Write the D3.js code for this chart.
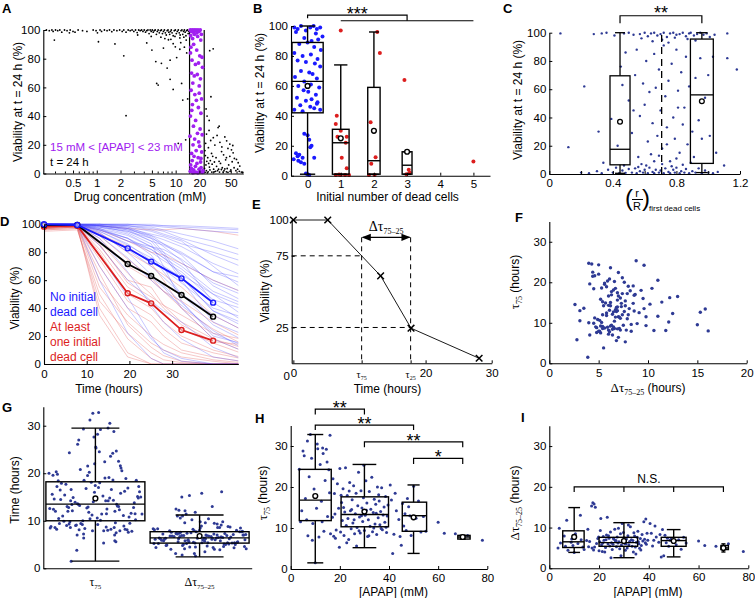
<!DOCTYPE html>
<html><head><meta charset="utf-8">
<script src="https://cdn.jsdelivr.net/npm/d3@7/dist/d3.min.js"></script>
<style>html,body{margin:0;padding:0;background:#fff}svg{display:block}</style>
</head><body>
<svg id="fig" width="755" height="598" xmlns="http://www.w3.org/2000/svg"></svg>
<script>
// ================= DATA =================
// ---- A: viability at 24 h vs drug concentration
const aTicks = [0.5,1,2,5,10,20,50];
const aMinor = [0.3,0.4,0.6,0.7,0.8,0.9,3,4,6,7,8,9,30,40,60,70];
const aWindow = [15,23];
const aBlack = [
[0.23,100],[0.25,99.5],[0.27,100],[0.28,99],[0.3,100],[0.32,99.5],[0.34,100],[0.36,98.5],[0.39,100],[0.42,99.5],[0.46,100],[0.5,99],[0.53,98.5],[0.58,100],[0.66,99.5],[0.75,99],[0.9,100],[0.98,99.5],[1.02,98],[1.1,100],[1.15,99],[1.25,100],[1.35,99.5],[1.45,100],[1.55,98.8],[1.65,100],[1.8,99.5],[1.95,100],[2.1,99],[2.2,100],[2.35,98.5],[2.5,100],[2.65,99.5],[2.8,100],[2.95,99],[3.1,100],[3.25,98.2],[3.4,100],[3.55,99.5],[3.7,100],[3.85,99],[4.0,100],[4.15,98.5],[4.3,99.5],[4.45,100],[4.6,97.5],[4.75,100],[4.9,99],[5.05,100],[5.2,98.5],[5.35,99.5],[5.5,100],[5.7,97],[5.85,99],[6.0,100],[6.2,98],[6.4,99.5],[6.6,100],[6.8,97.5],[7.0,99],[7.2,100],[7.4,98],[7.6,96.5],[7.8,99.5],[8.0,100],[8.2,98.5],[8.4,97],[8.6,99],[8.8,100],[9.0,98],[9.3,96],[9.6,99.5],[9.9,100],[10.2,97.5],[10.5,99],[10.8,100],[11.1,98],[11.4,96.5],[11.7,99.5],[12.0,100],[12.3,97],[12.6,99],[12.9,100],[13.2,98.5],[13.5,96],[13.8,99.5],[14.1,100],[14.4,97.5],[14.7,99],
[6.5,95],[7.3,94],[8.7,93.5],[9.8,95.5],[11.3,94.5],[12.7,95],[13.6,93],[4.9,95.5],[3.3,96.5],
[0.29,93],[0.45,98],[1.05,91.8],[1.7,90.3],[2.2,82],[2.35,40.3],[4.3,91],[5.6,78],[5.75,62.8],[6.0,61.6],[8.5,79],[8.5,65.6],[9.3,58.6],[11.9,62.8],[12.3,51.2],[11.3,86.6],[10.3,80.8],[8.1,93.2],[7.0,87.4],[5.0,86],[9.3,90.5],[10.8,21],[6.6,76.8],[12.9,88],[13.8,84],[7.8,73.5],[14.2,52],[13.4,23.5],[9.9,88.3],[11.6,91.2],
[27,85.6],[29.9,86.9],[28,53.5],[25,40],[26.6,37],[35.6,33],[24.6,27.5],[30,25],[34.5,32],[42,25.5],[48.6,20.5],[44.3,22.8],[36.4,21.7],[31.4,19.8],[53.5,14.4],[59,9.8],[65,5.2],[48.6,12],[38.2,15.3],[24,21],[26,18],[28.5,14],[23.5,16],[25.5,11],[27.5,9],[24.2,6],[26.8,4.5],[29,6.5],[31,8],[33,5],[35,3],[37,7],[39,4],[41,2],[43,9.5],[45,3.5],[47,6],[50,2.5],[52,8.2],[55,4],[58,2],[61,3],[64,1.5],[68,1],[71,0.8],[24.5,2],[25.8,1.2],[27.2,2.5],[28.7,1],[30.3,3],[32,1.5],[34,2],[36,1],[38,2.8],[40,1],[42,3.2],[44,1.2],[46,0.8],[49,1.5],[23.2,3.5],[24.8,8.5],[26.2,7],[29.5,12],[32.5,11],[40.5,13],[46,17.5],[55.5,10.5],[62,7.5],[51,16.5],[23.8,12.5],[27.8,23],[33.5,26.5],[38.5,18.5],[44,11],[53,19.5],[30.8,1.2],[35.5,8.5],[23.6,0.8],[25.2,0.5],[26.5,30],[24.3,45]
];
const aPurple = [
[15.3,100],[15.8,99],[16.2,100],[16.7,98.5],[17.1,100],[17.6,99.5],[18.1,100],[18.6,98],[19.2,100],[19.8,99],[20.5,100],[21.2,97],[15.5,96],[16.4,94],[17.3,97],[19,95.5],[20.8,93],[15.6,88],[16.9,90],[15.4,84],[18.5,86],[20.2,82],[21.6,81],[16.1,79],[17.8,76],[19.5,77],[21.9,74],[15.9,70],[17.2,68],[18.8,69],[20.6,66],[16.5,63],[19.9,61],[15.7,58],[17.5,55],[21.3,52],[18.3,51],[16.3,48],[19.4,46],[20.9,42],[15.4,40],[17.9,37],[16.8,33],[20.4,31],[18.9,28],[15.2,26],[21.7,27],[17.4,24],[19.6,22],[16.6,20],[20.1,19],[18.2,16],[15.9,14],[21.4,15],[17.1,12],[19.3,11],[16.2,9],[20.7,8],[18.6,7],[15.5,6],[17.8,5],[21.0,4],[19.8,3],[16.9,2.5],[15.3,1.5],[18.0,1],[20.3,1.2],[21.8,0.8],[16.5,0.5],[19.1,0.5],[17.3,0.8],[22.2,2],[15.8,3.5],[20.9,10.5],[19.9,56],[16.0,44]
];
// ---- B: viability vs initial number of dead cells
const bGroups = [0,1,2,3];
const bN      = [70,20,11,7];
const bQ1     = [42,1,1,1];
const bMed    = [63,22,10,7];
const bQ3     = [89,31,59,16];
const bLo     = [1,1,1,1];
const bHi     = [100,74,96,16];
const bMean   = [60,25,30,16];
const bNoDead = [
[-0.4,99],[-0.3,98],[-0.2,100],[-0.05,97],[0.08,99],[0.18,100],[0.28,98],[0.38,99],[-0.35,96],[0.25,95],[0.45,93],[-0.1,92],[0.12,90],[0.32,91],[-0.25,88],[0.0,89],[0.2,86],[0.4,84],[-0.4,82],[-0.15,80],[0.1,81],[0.3,78],[-0.3,77],[-0.05,76],[0.22,75],[0.38,73],[-0.2,70],[0.05,69],[0.15,68],[-0.38,66],[0.28,65],[-0.1,63],[0.1,61],[-0.28,60],[0.35,59],[-0.12,57],[0.02,56],[0.25,54],[-0.32,52],[0.12,51],[-0.05,50],[0.3,49],[-0.22,47],[0.08,46],[0.2,45],[-0.4,44],[0.38,44],[-0.15,43],[0.0,27],[0.05,24],[0.12,20],[0.08,19],[-0.1,28],[-0.35,15],[-0.3,13],[-0.42,11],[-0.28,10],[-0.2,9],[-0.1,8],[0.2,12],[-0.25,14],[-0.15,12],[0.0,1],[0.05,0.5],[-0.05,1.5],[0.28,48]
];
const bSomeDead = [
[1.0,97],[0.88,40],[0.85,34.6],[1.0,30],[1.18,26],[0.9,26],[1.15,22],[1.03,12],[1.18,5],[0.85,0.5],[1.0,0.5],[1.13,0.5],[1.25,0.5],[0.95,0.8],[2.1,96],[2.18,82],[1.9,35.7],[2.05,12.3],[1.92,8],[1.85,0.5],[2.02,0.5],[2.92,64],[3.0,16],[3.05,4],[2.98,1],[3.08,2],[5.0,9.5]
];
// ---- C: viability vs relative position of first dead cells
const cThreshold = 0.707;
const cPos    = [0.445,0.96];
const cSpread = [0.063,0.072];
const cQ1  = [6.5,7.5];
const cMed = [17.5,56];
const cQ3  = [69.5,95.5];
const cLo  = [0.5,1];
const cHi  = [100,100];
const cMean= [37,51.5];
const cPts = [
[0.07,99.5],[0.28,99],[0.33,99.5],[0.36,100],[0.41,98],[0.47,99.5],[0.5,100],[0.53,98.5],[0.57,99],[0.6,100],[0.62,97.5],[0.64,99.5],[0.66,100],[0.68,98],[0.7,99],[0.72,100],[0.74,97],[0.76,99.5],[0.78,100],[0.8,98.5],[0.82,99],[0.84,100],[0.86,97.5],[0.88,99.5],[0.89,100],[0.91,98],[0.93,99],[0.95,100],[0.97,98.5],[0.99,99.5],[1.01,97],[1.04,98.5],[1.12,99.5],[0.58,96],[0.71,95],[0.79,96.5],[0.87,95.5],[0.65,94],[0.75,93],[0.92,94.5],
[0.12,19],[0.22,62],[0.31,30],[0.34,8],[0.39,39],[0.43,20],[0.45,76],[0.46,63],[0.48,86],[0.5,52],[0.52,29],[0.54,70],[0.55,88],[0.56,12],[0.57,41],[0.59,64],[0.6,49],[0.61,80],[0.62,23],[0.63,58],[0.64,14],[0.65,36],[0.66,85],[0.67,61],[0.68,27],[0.69,74],[0.7,45],[0.71,18],[0.72,91],[0.73,55],[0.74,33],[0.75,66],[0.76,9],[0.77,78],[0.78,40],[0.79,25],[0.8,88],[0.81,59],[0.82,15],[0.83,72],[0.84,35],[0.85,47],[0.86,83],[0.87,21],[0.88,62],[0.9,30],[0.91,12],[0.92,68],[0.94,38],[0.95,82],[0.96,25],[0.98,54],[1.0,70],[1.01,27],[1.03,83],[1.05,15],[1.1,6],[1.12,82],[1.18,74],[0.53,45],[0.69,13],[0.74,21],[0.81,47],[0.58,7],[0.66,9],[0.8,11],[0.89,8],
[0.2,1],[0.25,0.5],[0.3,2],[0.33,0.5],[0.37,3],[0.4,1],[0.42,4.5],[0.44,0.5],[0.46,2.5],[0.48,0.8],[0.5,3.5],[0.52,1],[0.54,4],[0.55,0.5],[0.57,2],[0.59,1],[0.6,3],[0.62,0.5],[0.63,4.5],[0.65,1.5],[0.66,0.5],[0.67,3],[0.69,1],[0.7,2.5],[0.72,0.5],[0.73,4],[0.75,1.5],[0.76,0.5],[0.78,3],[0.79,1],[0.8,4.5],[0.82,0.5],[0.83,2],[0.85,1],[0.86,3.5],[0.88,0.5],[0.9,2],[0.92,1],[0.94,4],[0.96,0.5],[0.98,2.5],[1.0,1],[1.03,0.5],[1.06,1.5],[0.61,6],[0.71,7],[0.77,5.5],[0.84,6.5],[0.47,6],[0.56,5]
];
// ---- D: viability time courses (individual wells + group means)
const dThinT = [0,7.8,13,19.6,25.1,28,32.2,39.6,46];
const dBlueThin = [
[100,100,100,100,99,99,98,97,96],[100,100,99,97,93,91,86,80,74],[100,100,97,92,84,80,72,60,52],[100,100,96,88,82,76,68,50,42],
[100,100,95,85,76,70,62,38,28],[100,100,93,82,70,62,50,28,18],[100,100,88,72,62,55,40,18,10],[100,100,99,96,92,89,84,72,64],
[100,99,85,60,45,38,30,12,4],[100,100,70,40,18,10,4,0,0],[100,100,100,99,98,96,93,88,82],[100,100,98,95,88,85,79,66,58],
[100,100,90,66,42,30,18,5,2],[100,100,99,97,90,80,62,38,30],[100,100,96,90,80,74,66,46,40],[100,100,100,100,99,98,97,95,94],
[100,100,97,88,84,82,75,58,50],[100,99,78,48,20,8,2,0,0],[100,100,99,98,92,86,78,56,46],[100,100,94,80,64,56,44,22,14],
[100,100,98,95,90,86,80,66,62],[100,100,60,22,4,0,0,0,0],[100,100,99,97,91,84,74,44,32],[100,100,96,90,82,76,64,50,36],
[100,100,100,99,96,93,89,78,70],[100,100,92,76,60,52,42,24,12],[100,100,99,96,88,78,60,30,22],[100,100,95,86,74,68,58,40,34],
[100,100,100,100,100,99,99,98,97],[100,100,98,93,84,78,70,52,44],[100,100,99,94,86,70,45,20,15],[100,100,100,98,95,92,88,70,55],
[100,100,97,90,78,66,50,35,25],[100,100,99,99,97,95,90,84,78]
];
const dRedThin = [
[98,99,80,50,40,30,20,10,5],[97,98,55,30,15,10,5,2,0],[99,99,90,70,60,52,45,30,20],[96,97,40,8,0,0,0,0,0],
[98,99,96,88,80,78,72,60,52],[97,98,70,40,30,20,10,5,2],[99,99,85,60,55,42,30,18,12],[95,96,50,18,4,0,0,0,0],
[98,99,82,55,45,35,25,15,8],[99,100,99,97,96,96,97,95,92],[97,98,75,45,35,25,15,8,4],[98,99,92,75,62,52,40,25,15],
[96,97,45,22,8,3,1,0,0],[99,99,88,65,50,40,28,16,14],[98,98,60,35,20,14,8,3,1],[97,99,94,80,70,64,55,35,25],
[98,99,35,5,0,0,0,0,0],[99,99,86,58,48,42,35,22,18],[97,98,65,28,12,6,2,0,0],[98,99,93,84,72,60,40,18,10]
];
const dMeanT = [0,7.8,19.6,25.1,32.2,39.6];
const dMeanNoDead = [100,99.5,82.8,73.3,61.3,43.9];
const dMeanAll    = [99.5,99.5,71.6,63,49.4,33.9];
const dMeanDead   = [98.3,99,50.6,43.4,24.3,16.7];
const dLegendNo   = ["No initial","dead cell"];
const dLegendDead = ["At least","one initial","dead cell"];
// ---- E: schematic time course
const eT = [0,5.2,13.2,17.8,28.1];
const eV = [100,100,61,24.5,3.5];
// ---- F-I: per-well [APAP], tau75, delta tau (75-25)
const wells = [
[3.5,24.3,5.0],[4,11.5,9.8],[4.5,14.2,6.2],[5,28.8,null],[5.5,27.6,null],[6,17.2,7.9],[6.5,12.0,5.4],[7,8.1,11.8],[7.5,22.5,4.4],[8,32.8,null],[8.5,27.0,null],[9,11.1,7.2],[9.5,19.5,5.6],[10,1.5,3.9],[10.5,14.8,8.5],[11,29.3,null],[11.5,7.8,6.1],[12,25.5,null],[12.5,16.5,13.0],[13,29.5,null],[13.5,9.2,5.2],[14,21.6,4.6],[14.5,29.2,null],[15,12.8,6.8],[15.5,24.2,9.6],[16,32.6,null],[16.2,8.6,6.6],[15.8,18.6,5.3],[8.8,7.0,6.4],[12.8,11.5,7.0],[13.2,28.2,null],[14.8,26.1,null],[10.8,30.5,null],[6.8,31.2,null],
[17,12.6,15.3],[17.5,8.0,16.1],[18,13.4,15.8],[18.5,9.5,15.0],[17.2,22.0,5.0],[17.8,18.4,4.5],[18.2,7.5,5.2],[19,20.8,6.1],[19.5,14.8,7.3],[20,24.5,4.3],[20.3,9.0,6.5],[20.7,16.2,12.2],[21,11.8,5.8],[21.3,19.6,4.1],[21.7,8.2,7.8],[22,13.9,6.9],[22.3,24.7,4.0],[22.6,10.6,5.1],[23,17.9,8.2],[23.3,12.3,12.5],[23.6,7.2,6.0],[24,21.1,7.4],[24.3,14.2,5.5],[24.6,9.8,8.9],[25,16.9,6.3],[25.3,11.2,4.6],[25.6,20.3,5.9],[26,8.6,7.1],[26.3,13.5,9.6],[26.6,18.5,6.7],[27,10.1,5.3],[27.3,15.4,7.7],[27.6,23.6,6.2],[28,12.7,6.5],[28.3,8.8,4.8],[28.6,19.1,8.5],[29,14.9,5.7],[29.3,11.6,11.0],[29.6,17.4,6.9],[30,9.4,7.5],[30.3,13.1,6.1],[30.6,21.5,4.4],[31,16.1,7.2],[31.3,7.9,5.0],[31.6,12.0,8.0],[32,18.9,5.8],[32.3,10.4,6.6],[32.6,14.6,10.2],[33,22.4,7.0],[33.3,9.1,5.4],[33.6,13.8,6.8],[34,17.0,8.7],[34.3,11.0,7.9],[34.6,15.8,5.2],[35,8.4,6.4],[35.3,20.0,7.6],[35.6,12.5,9.1],[36,16.6,6.0],[36.3,10.8,4.9],[36.6,14.0,7.3],[37,19.8,5.6],[37.3,9.6,8.3],[37.6,13.2,6.7],[38,15.1,11.4],[38.3,11.4,7.1],[38.6,17.7,6.3],[39,8.9,5.9],[39.3,12.9,8.6],[39.6,15.6,6.9],[19.8,5.3,7.7],[22.8,6.4,7.0],[26.8,5.6,6.8],[29.8,25.3,8.8],[24.8,14.5,2.6],[28.8,13.0,3.1],[33.8,10.0,4.0],[21.5,15.0,6.2],[23.8,19.0,8.0],[27.8,9.3,9.8],[31.8,8.1,10.6],[35.8,18.1,6.5],[25.8,12.0,7.4],[30.8,14.3,6.0],[34.8,13.6,3.5],[38.8,10.2,12.1],[20.5,18.0,9.3],[36.8,9.9,4.5],
[40.5,20.5,11.0],[41,16.8,8.6],[42,8.5,6.9],[43,14.2,7.7],[44,12.1,6.4],[45,5.8,2.8],[45.5,16.0,9.5],[46,10.5,3.1],[46.5,13.5,8.1],[47,9.4,6.3],[47.5,17.2,7.4],[48,15.2,5.4],[48.5,13.0,6.9],[49,8.2,7.2],[50,20.2,6.6],[51,12.4,5.8],[52,16.6,7.0],[53,9.0,4.7],[54,12.8,7.6],[55,9.2,6.2],[41.5,3.8,5.5],[44.5,7.9,8.3],[42.5,18.5,10.4],
[60,11.4,6.7],[62.5,8.7,5.6],[67,8.6,5.4],[69.5,7.6,4.8],[70.5,7.9,5.1],[72,8.2,6.0],[78,7.0,4.1]
];
// G box statistics (tau75, delta tau)
const gQ1=[10,5.3], gMed=[13.5,6.4], gQ3=[18.2,7.7], gLo=[1.5,2.4], gHi=[29.5,11.2], gMean=[14.7,6.8];
// H/I groups by [APAP]
const grpApap = [10,30,50,70];
const hRangeLo=[3.5,20.5,45.4,68], hRangeHi=[16.5,39.8,55.3,73];
const hQ1=[11.8,10.3,9.2,7.3], hMed=[16.8,13.3,13,7.8], hQ3=[24.3,17.6,16.3,8.2], hLo=[1.5,5.2,3.8,7.3], hHi=[32.8,25.5,20.5,8.2], hMean=[17.8,14,12.6,7.8];
const iRangeLo=[5.4,20,45,69], iRangeHi=[14,35.5,55,72];
const iQ1=[5.1,5.4,5.4,4.6], iMed=[6.5,6.3,6.8,5], iQ3=[9.2,7.6,7.6,5.6], iLo=[3.9,2.6,2.8,4], iHi=[14.9,11.2,9.5,6], iMean=[7.7,6.7,6.7,5];
const hSig = [[10,30,"**"],[10,50,"**"],[30,70,"**"],[50,70,"*"]];

// ================= DRAWING =================
const svg = d3.select("#fig");
const SANS='"Liberation Sans", Arial, Helvetica, sans-serif';
const SERIF='"Liberation Serif", "Times New Roman", serif';
const TFS=11.5, LFS=12;
const NAVY="#2e3a94", BLUE="#1a1aff", RED="#dc1e1e", PURPLE="#a020f0";

function styleAxis(g){
  g.attr("font-family",SANS).attr("font-size",TFS);
  g.select(".domain").attr("stroke","#000").attr("stroke-width",1.1);
  g.selectAll(".tick line").attr("stroke","#000");
  g.selectAll(".tick text").attr("fill","#000");
  return g;
}
function axB(sc,y,vals,fmt,pad){
  const a=d3.axisBottom(sc).tickValues(vals).tickSizeInner(-3).tickSizeOuter(0)
    .tickPadding(pad==null?5:pad).tickFormat(fmt||(d=>d));
  return styleAxis(svg.append("g").attr("transform",`translate(0,${y})`).call(a));
}
function axL(sc,x,vals,fmt,pad){
  const a=d3.axisLeft(sc).tickValues(vals).tickSizeInner(-3).tickSizeOuter(0)
    .tickPadding(pad==null?3:pad).tickFormat(fmt||(d=>d));
  return styleAxis(svg.append("g").attr("transform",`translate(${x},0)`).call(a));
}
function T(x,y,s,o){o=o||{};
  const t=svg.append("text").attr("x",x).attr("y",y).text(s)
   .attr("font-family",o.ff||SANS).attr("font-size",o.fs||LFS).attr("fill",o.fill||"#000")
   .attr("text-anchor",o.anchor||"middle");
  if(o.fw)t.attr("font-weight",o.fw);
  if(o.rot)t.attr("transform",`rotate(${o.rot},${x},${y})`);
  return t;}
function R(x,y,parts,o){o=o||{};
  const t=svg.append("text").attr("x",x).attr("y",y).attr("text-anchor",o.anchor||"middle").attr("fill","#000");
  if(o.rot)t.attr("transform",`rotate(${o.rot},${x},${y})`);
  let sh=0;
  parts.forEach(p=>{const tg=p.sub?(p.dy||3):0;
    t.append("tspan").attr("font-family",p.ff||SANS).attr("font-size",p.fs||LFS).attr("dy",tg-sh).text(p.t); sh=tg;});
  return t;}
function dots(data,xs,ys,r,fill,fx,fy){
  svg.append("g").selectAll("circle").data(data).join("circle")
   .attr("cx",d=>xs(fx(d))).attr("cy",d=>ys(fy(d))).attr("r",r).attr("fill",fill);
}
function boxes(xs,ys,st,sw){
  const g=svg.append("g").attr("stroke","#000").attr("stroke-width",sw||1.3).attr("fill","none");
  st.forEach(b=>{
    const cx=xs(b.c);
    const ln=(x1,y1,x2,y2)=>g.append("line").attr("x1",x1).attr("y1",y1).attr("x2",x2).attr("y2",y2);
    ln(cx,ys(b.wl),cx,ys(b.q1)); ln(cx,ys(b.q3),cx,ys(b.wh));
    ln(xs(b.c0),ys(b.wl),xs(b.c1),ys(b.wl)); ln(xs(b.c0),ys(b.wh),xs(b.c1),ys(b.wh));
    g.append("rect").attr("x",xs(b.x0)).attr("y",ys(b.q3)).attr("width",xs(b.x1)-xs(b.x0)).attr("height",Math.max(0.5,ys(b.q1)-ys(b.q3)));
    ln(xs(b.x0),ys(b.med),xs(b.x1),ys(b.med));
    g.append("circle").attr("cx",cx).attr("cy",ys(b.mean)).attr("r",2.4).attr("fill","#fff");
  });
}
function bracket(xs,ys,x1,x2,y,d1,d2,extra){
  const g=svg.append("g").attr("stroke","#000").attr("stroke-width",1.2).attr("fill","none");
  g.append("path").attr("d",`M${xs(x1)},${ys(d1==null?y:d1)}L${xs(x1)},${ys(y)}L${xs(x2)},${ys(y)}L${xs(x2)},${ys(d2==null?y:d2)}`);
  (extra||[]).forEach(e=>g.append("line").attr("x1",xs(e)).attr("x2",xs(e)).attr("y1",ys(y)).attr("y2",ys(d1)));
}
const stars=(x,y,s)=>T(x,y,s,{fs:18});

// panel letters
[["A",2,13],["B",253,13],["C",503,13],["D",0,226],["E",252,209],["F",515,222],["G",2,412],["H",255,423],["I",521,422]]
 .forEach(l=>T(l[1],l[2],l[0],{fs:13,fw:"bold",anchor:"start"}));

// ---------- A ----------
{
const xA=d3.scaleLog().domain([0.21,72]).range([43.3,243.3]);
const yA=d3.scaleLinear().domain([0,100]).range([173.5,30]);
dots(aBlack,xA,yA,0.9,"#000",d=>d[0],d=>d[1]);
aWindow.forEach(v=>svg.append("line").attr("x1",xA(v)).attr("x2",xA(v)).attr("y1",yA(0)).attr("y2",yA(100)).attr("stroke","#000").attr("stroke-width",1.2));
dots(aPurple,xA,yA,1.9,PURPLE,d=>d[0],d=>d[1]);
axB(xA,173.5,aTicks,d=>d,5);
svg.append("g").selectAll("line").data(aMinor).join("line").attr("x1",d=>xA(d)).attr("x2",d=>xA(d)).attr("y1",173.5).attr("y2",171.5).attr("stroke","#000");
axL(yA,43.3,[0,20,40,60,80,100]);
T(50,151,"15 mM < [APAP] < 23 mM",{fill:PURPLE,anchor:"start",fs:11.5});
T(50,165.5,"t = 24 h",{anchor:"start",fs:11.5});
T(140,201,"Drug concentration (mM)");
T(22,102,"Viability at t = 24 h (%)",{rot:-90});
}
// ---------- B ----------
{
const xB=d3.scaleLinear().domain([-0.5,5.5]).range([291,490]);
const yB=d3.scaleLinear().domain([0,100]).range([175.7,26]);
dots(bNoDead,xB,yB,2,BLUE,d=>d[0],d=>d[1]);
dots(bSomeDead,xB,yB,2,RED,d=>d[0],d=>d[1]);
const st=bGroups.map((g,i)=>{const hw=0.47*Math.sqrt(bN[i]/bN[0]);const cp=Math.min(hw*0.8,0.23);
  return {c:g,x0:g-hw,x1:g+hw,c0:g-cp,c1:g+cp,q1:bQ1[i],med:bMed[i],q3:bQ3[i],wl:bLo[i],wh:bHi[i],mean:bMean[i]};});
boxes(xB,yB,st,1.4);
axB(xB,175.7,[0,1,2,3,4,5],d=>d,4);
axL(yB,291,[0,20,40,60,80,100]);
bracket(xB,yB,0,3,107.3,105.2,103.5);
bracket(xB,yB,1,5,103.5);
stars(xB(1.5),19.7,"***");
T(387.5,201,"Initial number of dead cells");
T(263.5,93,"Viability at t = 24 h (%)",{rot:-90});
}
// ---------- C ----------
{
const xC=d3.scaleLinear().domain([0,1.2]).range([549.3,740]);
const yC=d3.scaleLinear().domain([0,100]).range([174,32.7]);
dots(cPts,xC,yC,1.2,NAVY,d=>d[0],d=>d[1]);
svg.append("line").attr("x1",xC(cThreshold)).attr("x2",xC(cThreshold)).attr("y1",yC(0)).attr("y2",yC(100))
  .attr("stroke","#000").attr("stroke-width",1.3).attr("stroke-dasharray","7,5");
const st=cPos.map((p,i)=>({c:p,x0:p-cSpread[i],x1:p+cSpread[i],c0:p-cSpread[i]*0.5,c1:p+cSpread[i]*0.5,q1:cQ1[i],med:cMed[i],q3:cQ3[i],wl:cLo[i],wh:cHi[i],mean:cMean[i]}));
boxes(xC,yC,st,1.3);
axB(xC,174,[0,0.2,0.4,0.6,0.8,1.0,1.2],d=>([0,0.4,0.8,1.2].includes(d)?(d===0?"0":d):""),5);
axL(yC,549.3,[0,20,40,60,80,100]);
bracket(xC,yC,cPos[0],cPos[1],112,106.6,106.6);
stars((xC(cPos[0])+xC(cPos[1]))/2,18.7,"**");
T(637,197,"r",{fs:11});
svg.append("line").attr("x1",632).attr("x2",643).attr("y1",199.5).attr("y2",199.5).attr("stroke","#000");
T(637,210,"R",{fs:11});
T(629,206,"(",{fs:24});
T(646,206,")",{fs:24});
T(649,211,"first dead cells",{fs:8,anchor:"start"});
T(521.5,100,"Viability at t = 24 h (%)",{rot:-90});
}
// ---------- D ----------
{
const xD=d3.scaleLinear().domain([0,45.5]).range([44,238.3]);
const yD=d3.scaleLinear().domain([0,100]).range([364,224.3]);
svg.append("clipPath").attr("id","clipD").append("rect").attr("x",44).attr("y",220).attr("width",194.3).attr("height",146);
const thin=d3.line().x((v,i)=>xD(dThinT[i])).y(v=>yD(v));
const gt=svg.append("g").attr("clip-path","url(#clipD)").attr("fill","none").attr("stroke-width",0.7);
dRedThin.forEach(s=>gt.append("path").attr("d",thin(s)).attr("stroke","#e35050").attr("stroke-opacity",0.45));
dBlueThin.forEach(s=>gt.append("path").attr("d",thin(s)).attr("stroke","#5050ff").attr("stroke-opacity",0.45));
const mean=d3.line().x((v,i)=>xD(dMeanT[i])).y(v=>yD(v));
[[dMeanDead,RED],[dMeanAll,"#000"],[dMeanNoDead,BLUE]].forEach(([s,c])=>{
  svg.append("path").attr("d",mean(s)).attr("fill","none").attr("stroke",c).attr("stroke-width",1.8);
  svg.append("g").selectAll("circle").data(s).join("circle").attr("cx",(v,i)=>xD(dMeanT[i])).attr("cy",v=>yD(v))
    .attr("r",2.5).attr("fill","#fff").attr("fill-opacity",0.5).attr("stroke",c).attr("stroke-width",1.4);
});
axB(xD,364,[0,10,20,30],d=>d,6);
axL(yD,44,[0,20,40,60,80,100]);
dLegendNo.forEach((s,i)=>T(50,301+15*i,s,{fill:BLUE,anchor:"start"}));
dLegendDead.forEach((s,i)=>T(50,331+15*i,s,{fill:RED,anchor:"start"}));
T(109,393,"Time (hours)");
T(18.5,298,"Viability (%)",{rot:-90});
}
// ---------- E ----------
{
const xE=d3.scaleLinear().domain([-0.25,30]).range([291.7,491.7]);
const yE=d3.scaleLinear().domain([0,100]).range([363.3,220]);
const interp=v=>{for(let i=0;i<eT.length-1;i++){if((eV[i]-v)*(eV[i+1]-v)<=0&&eV[i]!==eV[i+1]){return eT[i]+(eV[i]-v)/(eV[i]-eV[i+1])*(eT[i+1]-eT[i]);}}return null;};
const t75=interp(75), t25=interp(25);
const yArrow=237.3;
const dg=svg.append("g").attr("stroke","#000").attr("stroke-width",1).attr("stroke-dasharray","5,4");
dg.append("line").attr("x1",xE(-0.25)).attr("x2",xE(t75)).attr("y1",yE(75)).attr("y2",yE(75));
dg.append("line").attr("x1",xE(-0.25)).attr("x2",xE(t25)).attr("y1",yE(25)).attr("y2",yE(25));
dg.append("line").attr("x1",xE(t75)).attr("x2",xE(t75)).attr("y1",yArrow).attr("y2",yE(0));
dg.append("line").attr("x1",xE(t25)).attr("x2",xE(t25)).attr("y1",yArrow).attr("y2",yE(0));
svg.append("path").attr("d",d3.line().x((v,i)=>xE(eT[i])).y(v=>yE(v))(eV)).attr("fill","none").attr("stroke","#000").attr("stroke-width",0.9);
const cg=svg.append("g").attr("stroke","#000").attr("stroke-width",1.5);
eV.forEach((v,i)=>{const x=xE(eT[i]),y=yE(v),s=3.3;
  cg.append("line").attr("x1",x-s).attr("y1",y-s).attr("x2",x+s).attr("y2",y+s);
  cg.append("line").attr("x1",x-s).attr("y1",y+s).attr("x2",x+s).attr("y2",y-s);});
const defs=svg.append("defs");
defs.append("marker").attr("id","ah").attr("viewBox","0 0 10 10").attr("refX",9).attr("refY",5).attr("markerWidth",7).attr("markerHeight",7).attr("orient","auto-start-reverse")
  .append("path").attr("d","M0,1L10,5L0,9Z").attr("fill","#000");
svg.append("line").attr("x1",xE(t75)+1).attr("x2",xE(t25)-1).attr("y1",yArrow).attr("y2",yArrow).attr("stroke","#000").attr("stroke-width",1.3)
  .attr("marker-start","url(#ah)").attr("marker-end","url(#ah)");
R((xE(t75)+xE(t25))/2,231,[{t:"Δτ",ff:SERIF,fs:14},{t:"75–25",ff:SERIF,fs:8,sub:true}]);
axB(xE,363.3,[0,t75,t25,20,30],d=>(d===0||d===20||d===30)?d:"",6);
axL(yE,291.7,[25,75,100]);
T(290,379.5,"0",{fs:TFS,anchor:"end"});
R(xE(t75),378,[{t:"τ",ff:SERIF,fs:10},{t:"75",ff:SERIF,fs:6,sub:true,dy:2}]);
R(xE(t25),378,[{t:"τ",ff:SERIF,fs:10},{t:"25",ff:SERIF,fs:6,sub:true,dy:2}]);
T(387.5,393,"Time (hours)");
T(268.5,291,"Viability (%)",{rot:-90});
}
// ---------- F ----------
const wD = wells.filter(w=>w[2]!=null);
{
const xF=d3.scaleLinear().domain([0,20]).range([549.3,746.7]);
const yF=d3.scaleLinear().domain([0,35]).range([363.3,221.5]);
dots(wD,xF,yF,1.7,NAVY,d=>d[2],d=>d[1]);
axB(xF,363.3,[0,5,10,15,20],d=>d,6);
axL(yF,549.3,[0,10,20,30]);
R(648,392,[{t:"Δτ",ff:SERIF,fs:13},{t:"75–25",ff:SERIF,fs:8,sub:true},{t:" (hours)",fs:LFS}]);
R(518.5,282,[{t:"τ",ff:SERIF,fs:13},{t:"75",ff:SERIF,fs:8,sub:true},{t:" (hours)",fs:LFS}],{rot:-90});
}
// ---------- G ----------
{
const xG=d3.scaleLinear().domain([0.5,2.5]).range([43.3,251.7]);
const yG=d3.scaleLinear().domain([0,34]).range([568.3,406.7]);
const jit=(i,v,lo,hi)=>{const f=((i*0.6180339887)%1)-0.5;return f*((v>=lo&&v<=hi)?0.9:0.5);};
const gT=wells.map((w,i)=>[1+jit(i,w[1],7,21),w[1]]);
const gD=wD.map((w,i)=>[2+jit(i+7,w[2],4,9),w[2]]);
dots(gT,xG,yG,1.5,NAVY,d=>d[0],d=>d[1]);
dots(gD,xG,yG,1.5,NAVY,d=>d[0],d=>d[1]);
const st=[0,1].map(i=>({c:i+1,x0:i+1-0.475,x1:i+1+0.475,c0:i+1-0.23,c1:i+1+0.23,q1:gQ1[i],med:gMed[i],q3:gQ3[i],wl:gLo[i],wh:gHi[i],mean:gMean[i]}));
boxes(xG,yG,st,1.4);
axB(xG,568.3,[],d=>d);
axL(yG,43.3,[0,10,20,30]);
R(xG(1),586,[{t:"τ",ff:SERIF,fs:12},{t:"75",ff:SERIF,fs:7,sub:true}]);
R(xG(2),586,[{t:"Δτ",ff:SERIF,fs:12},{t:"75–25",ff:SERIF,fs:7,sub:true}]);
T(18.5,490,"Time (hours)",{rot:-90});
}
// ---------- H ----------
{
const xH=d3.scaleLinear().domain([0,80]).range([290.7,487.3]);
const yH=d3.scaleLinear().domain([0,35]).range([569,425.5]);
dots(wells,xH,yH,1.5,NAVY,d=>d[0],d=>d[1]);
const st=grpApap.map((c,i)=>{const hw=(hRangeHi[i]-hRangeLo[i])/2;
  return {c:c,x0:hRangeLo[i],x1:hRangeHi[i],c0:c-hw*0.5,c1:c+hw*0.5,q1:hQ1[i],med:hMed[i],q3:hQ3[i],wl:hLo[i],wh:hHi[i],mean:hMean[i]};});
boxes(xH,yH,st,1.4);
axB(xH,569,[0,20,40,60,80],d=>d,5);
axL(yH,290.7,[0,10,20,30]);
const lv=[[39,37.7],[35.1,33.9],[31,29.7],[27,25.6]];
hSig.forEach((s,i)=>{bracket(xH,yH,s[0],s[1],lv[i][0],lv[i][1],lv[i][1]);
  stars(xH((s[0]+s[1])/2),yH(lv[i][0])+4.7,s[2]);});
T(393.5,596,"[APAP] (mM)");
R(266.5,493,[{t:"τ",ff:SERIF,fs:13},{t:"75",ff:SERIF,fs:8,sub:true},{t:" (hours)",fs:LFS}],{rot:-90});
}
// ---------- I ----------
{
const xI=d3.scaleLinear().domain([0,80]).range([549.3,748.3]);
const yI=d3.scaleLinear().domain([0,35]).range([568.3,425.7]);
dots(wD,xI,yI,1.5,NAVY,d=>d[0],d=>d[2]);
const st=grpApap.map((c,i)=>{const hw=(iRangeHi[i]-iRangeLo[i])/2;
  return {c:c,x0:iRangeLo[i],x1:iRangeHi[i],c0:c-hw*0.55,c1:c+hw*0.55,q1:iQ1[i],med:iMed[i],q3:iQ3[i],wl:iLo[i],wh:iHi[i],mean:iMean[i]};});
boxes(xI,yI,st,1.4);
axB(xI,568.3,[0,20,40,60,80],d=>d,5);
axL(yI,549.3,[0,10,20,30]);
bracket(xI,yI,10,70,20,18.7,18.7,[30,50]);
T(xI(40),482.6,"N.S.");
T(648,596,"[APAP] (mM)");
R(518.5,503,[{t:"Δτ",ff:SERIF,fs:13},{t:"75–25",ff:SERIF,fs:8,sub:true},{t:" (hours)",fs:LFS}],{rot:-90});
}
</script>
</body></html>
